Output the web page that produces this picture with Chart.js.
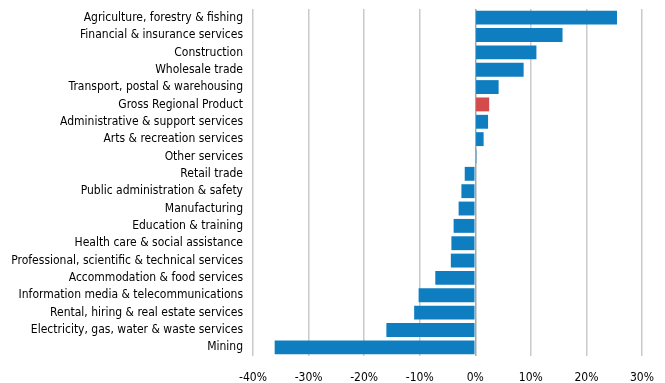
<!DOCTYPE html>
<html>
<head>
<meta charset="utf-8">
<script src="https://cdn.jsdelivr.net/npm/chart.js@4/dist/chart.umd.min.js"></script>
<style>
    html, body { margin: 0; padding: 0; background: #fff; }
    #wrap { width: 665px; height: 383px; }
</style>
</head>
<body>
<div id="wrap"><canvas id="myChart" width="665" height="383"></canvas></div>
<script>

// industries, top to bottom
const industries = [
    'Agriculture, forestry & fishing',
    'Financial & insurance services',
    'Construction',
    'Wholesale trade',
    'Transport, postal & warehousing',
    'Gross Regional Product',
    'Administrative & support services',
    'Arts & recreation services',
    'Other services',
    'Retail trade',
    'Public administration & safety',
    'Manufacturing',
    'Education & training',
    'Health care & social assistance',
    'Professional, scientific & technical services',
    'Accommodation & food services',
    'Information media & telecommunications',
    'Rental, hiring & real estate services',
    'Electricity, gas, water & waste services',
    'Mining'
];

// growth, %
const growth = [25.5, 15.7, 11.0, 8.7, 4.2, 2.5, 2.3, 1.5, 0.2, -1.9, -2.5, -3.0, -3.9, -4.3, -4.4, -7.2, -10.2, -11.0, -16.0, -36.1];

const xTicks = [-40, -30, -20, -10, 0, 10, 20, 30];

const blue = '#0f7ec0';
const red = '#d44b4c';

const barColors = industries.map(name => name === 'Gross Regional Product' ? red : blue);

// "condensed" goes into the weight slot of the font shorthand
const labelFont = { family: "'DejaVu Sans', sans-serif", weight: 'condensed', size: 12 };

var ctx = document.getElementById('myChart').getContext('2d');

var myChart = new Chart(ctx, {
    type: 'bar',
    data: {
        labels: industries,
        datasets: [{
            data: growth,
            backgroundColor: barColors,
            borderWidth: 0,
            barPercentage: 0.8,
            categoryPercentage: 1
        }]
    },
    options: {
        indexAxis: 'y',
        responsive: false,
        animation: false,
        layout: { padding: { top: 9, right: 23, bottom: 0, left: 0 } },
        plugins: {
            legend: { display: false },
            tooltip: { enabled: false }
        },
        scales: {
            x: {
                min: -40,
                max: 30,
                afterBuildTicks: (scale) => {
                    scale.ticks = xTicks.map(v => ({ value: v }));
                },
                afterFit: (scale) => {
                    scale.height = 27;
                    scale.paddingLeft = 0;
                    scale.paddingRight = 0;
                },
                border: { display: false },
                grid: {
                    drawTicks: false,
                    lineWidth: 1.5,
                    color: (c) => c.tick && c.tick.value === 0 ? '#a6a6a6' : '#cacaca'
                },
                ticks: {
                    padding: 15,
                    color: '#000',
                    font: labelFont,
                    maxRotation: 0,
                    callback: (v) => v + '%'
                }
            },
            y: {
                afterFit: (scale) => {
                    scale.width = 253;
                    scale.paddingTop = 0;
                    scale.paddingBottom = 0;
                },
                border: { display: false },
                grid: { display: false, drawTicks: false },
                ticks: {
                    padding: 10,
                    color: '#000',
                    font: labelFont,
                    autoSkip: false
                }
            }
        }
    }
});

</script>
</body>
</html>
